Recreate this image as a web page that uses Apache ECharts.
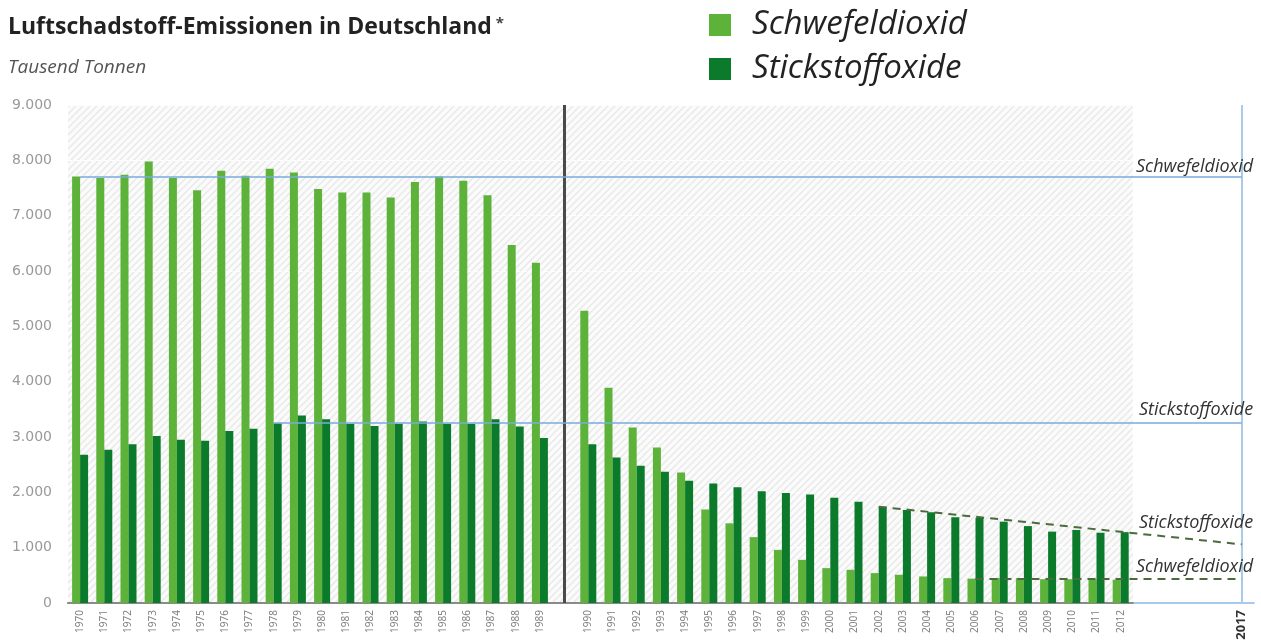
<!DOCTYPE html>
<html>
<head>
<meta charset="utf-8">
<script src="https://cdn.jsdelivr.net/npm/echarts@6/dist/echarts.min.js"></script>
<style>
  html, body { margin: 0; padding: 0; background: #fff; }
  #container { width: 1261px; height: 644px; }
</style>
</head>
<body>
<div id="container"></div>
<script>
var myChart = echarts.init(document.getElementById('container'));

// Jahre mit Messwerten
var years = ['1970','1971','1972','1973','1974','1975','1976','1977','1978','1979',
             '1980','1981','1982','1983','1984','1985','1986','1987','1988','1989',
             '1990','1991','1992','1993','1994','1995','1996','1997','1998','1999',
             '2000','2001','2002','2003','2004','2005','2006','2007','2008','2009',
             '2010','2011','2012'];
// Tausend Tonnen
var so2 = [7710, 7680, 7740, 7980, 7680, 7460, 7810, 7720, 7850, 7780,
           7480, 7420, 7420, 7330, 7610, 7710, 7630, 7370, 6470, 6150,
           5280, 3890, 3170, 2810, 2360, 1690, 1440, 1190, 960, 780,
           630, 600, 540, 510, 480, 450, 440, 450, 450, 430,
           430, 430, 420];
var nox = [2680, 2770, 2870, 3020, 2950, 2930, 3110, 3150, 3250, 3390,
           3320, 3240, 3200, 3240, 3280, 3240, 3240, 3320, 3190, 2980,
           2870, 2630, 2480, 2370, 2210, 2160, 2090, 2020, 1990, 1960,
           1900, 1830, 1740, 1680, 1640, 1550, 1540, 1470, 1390, 1290,
           1320, 1270, 1280];
// Zieljahre ohne Werte
var futureYears = ['2013', '2014', '2015', '2016', '2017'];
var targetYear = '2017';
// Trendlinien bis 2017: [Startjahr, Startwert, Zielwert]
var noxTrend = ['2002', 1740, 1060];
var so2Trend = ['2006', 430, 430];
var yTicks = [0, 1000, 2000, 3000, 4000, 5000, 6000, 7000, 8000, 9000];

// Kategorien: Lücke zwischen 1989 und 1990
var gapIndex = years.indexOf('1989') + 1;
var categories = years.slice(0, gapIndex).concat([''], years.slice(gapIndex), futureYears);
var hatchCount = gapIndex + 1 + (years.length - gapIndex);

function byCategory(values) {
  return categories.map(function (c) {
    var i = years.indexOf(c);
    return i < 0 ? '-' : values[i];
  });
}

var so2Ref = so2[years.indexOf('1970')];
var noxRef = nox[years.indexOf('1978')];

var bandW = 24.2;
var gridLeft = 68;

// schraffierter Hintergrund
var hatch = document.createElement('canvas');
hatch.width = 7; hatch.height = 7;
var ctx = hatch.getContext('2d');
ctx.fillStyle = '#fbfbfb';
ctx.fillRect(0, 0, 7, 7);
ctx.strokeStyle = '#e8e8e8';
ctx.lineWidth = 1.4;
ctx.beginPath();
ctx.moveTo(-1, 8); ctx.lineTo(8, -1);
ctx.moveTo(-1, 1); ctx.lineTo(1, -1);
ctx.moveTo(6, 8); ctx.lineTo(8, 6);
ctx.stroke();

function dots(v) {
  return String(v).replace(/\B(?=(\d{3})+(?!\d))/g, '.');
}

var lightGreen = '#5db23a';
var darkGreen = '#0b7a2b';
var blue = '#78acdc';
var blueLight = '#a9cbeb';
var trendColor = '#4b6b3c';

function endLabel(name, value, dy) {
  return {
    name: name,
    coord: [targetYear, value],
    symbol: 'rect',
    symbolSize: 1,
    itemStyle: { color: 'rgba(0,0,0,0)' },
    label: {
      show: true,
      formatter: name,
      position: [12, dy],
      align: 'right',
      verticalAlign: 'bottom',
      fontFamily: 'Open Sans',
      fontStyle: 'italic',
      fontSize: 18,
      color: '#333'
    }
  };
}

var option = {
  animation: false,
  title: {
    left: 3,
    top: 11,
    text: '{m|Luftschadstoff-Emissionen in Deutschland}{a| *}',
    subtext: 'Tausend Tonnen',
    itemGap: 19,
    textStyle: {
      rich: {
        m: { fontFamily: 'Open Sans', fontSize: 23, fontWeight: 'bold', color: '#222' },
        a: { fontFamily: 'Open Sans', fontSize: 15, color: '#444', verticalAlign: 'top', padding: [0, 0, 8, 0] }
      }
    },
    subtextStyle: {
      fontFamily: 'Open Sans',
      fontSize: 19,
      fontStyle: 'italic',
      color: '#555'
    }
  },
  legend: {
    orient: 'vertical',
    left: 704,
    top: 2,
    itemWidth: 22,
    itemHeight: 22,
    itemGap: 8,
    icon: 'rect',
    selectedMode: false,
    textStyle: {
      fontFamily: 'Open Sans',
      fontStyle: 'italic',
      fontSize: 33,
      lineHeight: 36,
      color: '#222',
      padding: [0, 0, 0, 16]
    },
    data: ['Schwefeldioxid', 'Stickstoffoxide']
  },
  grid: [
    { left: gridLeft, top: 105, bottom: 41, width: categories.length * bandW },
    { left: gridLeft, top: 105, bottom: 41, width: hatchCount * bandW,
      show: true, borderWidth: 0, backgroundColor: { image: hatch, repeat: 'repeat' } }
  ],
  xAxis: [
    {
      type: 'category',
      gridIndex: 0,
      data: categories,
      axisTick: { show: false },
      axisLine: { lineStyle: { color: blueLight, width: 2 } },
      axisLabel: {
        interval: 0,
        rotate: 90,
        margin: 7,
        fontFamily: 'Noto Sans',
        fontSize: 10,
        color: '#808080',
        formatter: function (v) {
          if (v === targetYear) return '{b|' + v + '}';
          return years.indexOf(v) >= 0 ? v : '';
        },
        rich: {
          b: { fontFamily: 'Noto Sans', fontSize: 13, fontWeight: 'bold', color: '#333' }
        }
      }
    },
    {
      type: 'category',
      gridIndex: 1,
      z: 1,
      data: categories.slice(0, hatchCount),
      axisTick: { show: false },
      axisLabel: { show: false },
      axisLine: { lineStyle: { color: '#8a8a8a', width: 2 } }
    }
  ],
  yAxis: [
    {
      type: 'value',
      gridIndex: 0,
      min: yTicks[0],
      max: yTicks[yTicks.length - 1],
      interval: yTicks[1] - yTicks[0],
      axisLine: { show: false },
      axisTick: { show: false },
      axisLabel: {
        margin: 16,
        fontFamily: 'DejaVu Sans',
        fontSize: 14,
        color: '#999',
        formatter: dots
      },
      splitLine: { lineStyle: { color: '#ffffff', width: 1, type: [4, 3] } }
    },
    { type: 'value', gridIndex: 1, min: 0, max: 9000, show: false }
  ],
  series: [
    {
      name: 'Schwefeldioxid',
      type: 'bar',
      barWidth: 8,
      barGap: '0%',
      itemStyle: { color: lightGreen },
      data: byCategory(so2)
    },
    {
      name: 'Stickstoffoxide',
      type: 'bar',
      barWidth: 8,
      barGap: '0%',
      itemStyle: { color: darkGreen },
      data: byCategory(nox)
    },
    {
      name: 'Markierungen',
      type: 'line',
      data: categories.map(function () { return '-'; }),
      markLine: {
        silent: true,
        symbol: ['none', 'none'],
        label: { show: false },
        data: [
          { xAxis: gapIndex, lineStyle: { color: '#4a4a4a', width: 3, type: 'solid' } },
          { xAxis: targetYear, lineStyle: { color: blueLight, width: 2, type: 'solid' } },
          [{ coord: ['1970', so2Ref], lineStyle: { color: blue, width: 1.5, type: 'solid' } },
           { coord: [targetYear, so2Ref] }],
          [{ coord: ['1978', noxRef], lineStyle: { color: blue, width: 1.5, type: 'solid' } },
           { coord: [targetYear, noxRef] }],
          [{ coord: [noxTrend[0], noxTrend[1]], lineStyle: { color: trendColor, width: 2, type: [8, 6] } },
           { coord: [targetYear, noxTrend[2]] }],
          [{ coord: [so2Trend[0], so2Trend[1]], lineStyle: { color: trendColor, width: 2, type: [8, 6] } },
           { coord: [targetYear, so2Trend[2]] }]
        ]
      },
      markPoint: {
        silent: true,
        data: [
          endLabel('Schwefeldioxid', so2Ref, 0),
          endLabel('Stickstoffoxide', noxRef, -4),
          endLabel('Stickstoffoxide', noxTrend[2], -12),
          endLabel('Schwefeldioxid', so2Trend[2], -3)
        ]
      }
    }
  ]
};

myChart.setOption(option);
</script>
</body>
</html>
